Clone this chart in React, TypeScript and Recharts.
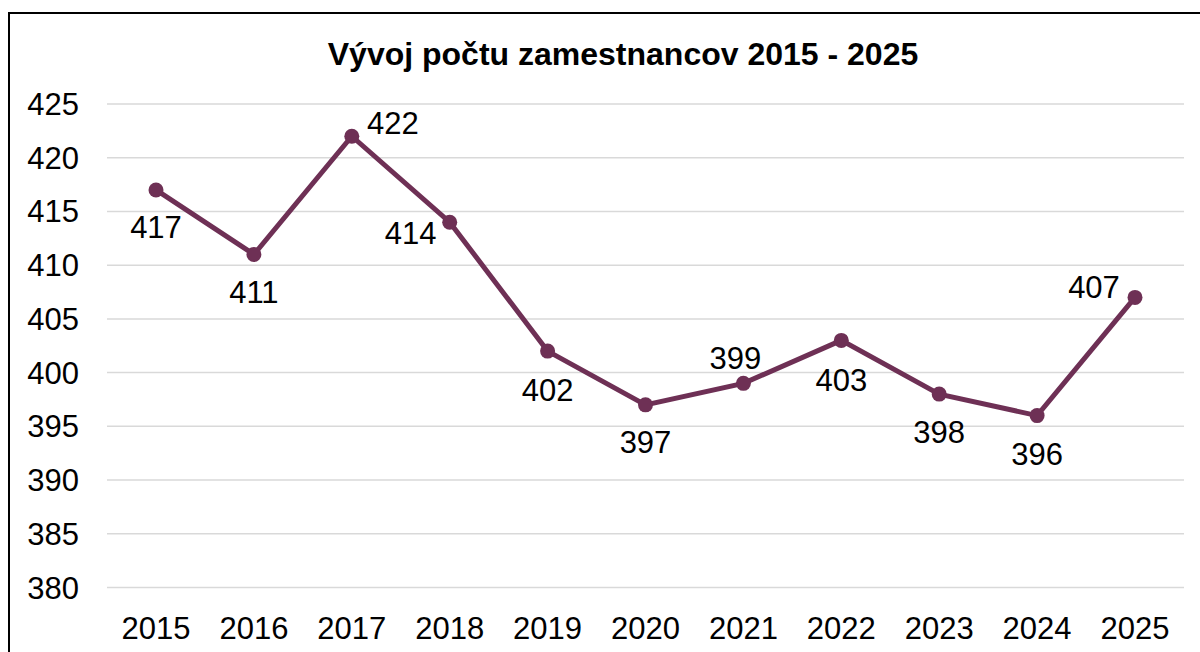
import React from "react"
import { CartesianGrid, LabelList, Line, LineChart, XAxis, YAxis } from "recharts"

const years = ["2015", "2016", "2017", "2018", "2019", "2020", "2021", "2022", "2023", "2024", "2025"]
const employees = [417, 411, 422, 414, 402, 397, 399, 403, 398, 396, 407]
const yTicks = [380, 385, 390, 395, 400, 405, 410, 415, 420, 425]

const data = years.map((year, i) => ({ year, employees: employees[i] }))

// label offset (text centre relative to the point), as placed in the original
const labelOffsets: [number, number][] = [
  [0, 38],
  [0, 38],
  [41, -13],
  [-39, 11],
  [0, 39],
  [0, 38],
  [-8, -25],
  [0, 40],
  [0, 38],
  [0, 39],
  [-41, -10],
]

const FONT = '"Liberation Sans", Arial, sans-serif'
const COLOR = "#6E3055"

const PointLabel = (props: any) => {
  const { x, y, index, value } = props
  const [dx, dy] = labelOffsets[index] || [0, 0]
  return (
    <text
      x={x + dx}
      y={y + dy}
      textAnchor="middle"
      dominantBaseline="central"
      fontSize={31}
      fontFamily={FONT}
      fill="#000"
    >
      {value}
    </text>
  )
}

export default function App() {
  return (
    <div style={{ position: "absolute", left: 0, top: 0, width: 1200, height: 652, overflow: "hidden", background: "#fff" }}>
      <div
        style={{
          position: "absolute",
          left: 8,
          top: 12,
          width: 1220,
          height: 700,
          border: "2px solid #000",
          boxSizing: "border-box",
        }}
      />
      <div
        style={{
          position: "absolute",
          left: 0,
          top: 54,
          width: 1246,
          textAlign: "center",
          fontFamily: FONT,
          fontWeight: "bold",
          fontSize: 32,
          lineHeight: "0px",
          color: "#000",
        }}
      >
        Vývoj počtu zamestnancov 2015 - 2025
      </div>
      <div style={{ position: "absolute", left: 0, top: 0 }}>
        <LineChart width={1200} height={652} data={data} margin={{ top: 104, right: 16, bottom: 0, left: 0 }}>
          <CartesianGrid vertical={false} stroke="#D9D9D9" strokeWidth={1.5} />
          <XAxis
            dataKey="year"
            height={64.5}
            axisLine={false}
            tickLine={false}
            tickSize={0}
            tickMargin={29}
            interval={0}
            padding={{ left: 49, right: 49 }}
            tick={{ fontSize: 31, fontFamily: FONT, fill: "#000" }}
          />
          <YAxis
            domain={[380, 425]}
            ticks={yTicks}
            width={107}
            axisLine={false}
            tickLine={false}
            tickSize={0}
            tickMargin={28}
            interval={0}
            tick={{ fontSize: 31, fontFamily: FONT, fill: "#000" }}
          />
          <Line
            type="linear"
            dataKey="employees"
            stroke={COLOR}
            strokeWidth={5}
            dot={{ r: 7.5, fill: COLOR, stroke: COLOR, strokeWidth: 0 }}
            isAnimationActive={false}
          >
            <LabelList dataKey="employees" content={<PointLabel />} />
          </Line>
        </LineChart>
      </div>
    </div>
  )
}
